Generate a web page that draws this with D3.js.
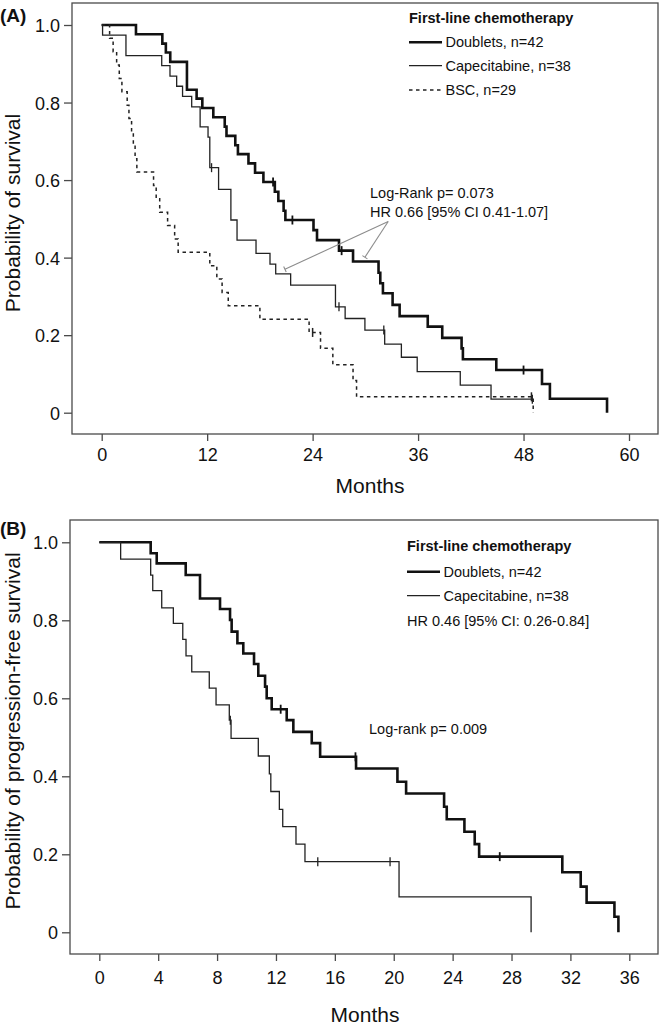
<!DOCTYPE html>
<html>
<head>
<meta charset="utf-8">
<script src="https://cdn.jsdelivr.net/npm/d3@7"></script>
<style>
  html, body { margin: 0; padding: 0; background: #fff; }
  svg { display: block; font-family: "Liberation Sans", Arial, Helvetica, sans-serif; }
</style>
</head>
<body>
<svg id="chart" width="663" height="1025"></svg>
<script>
// ---------------- DATA ----------------
const probTicks = [0, 0.2, 0.4, 0.6, 0.8, 1.0];
const probTickLabels = ["0", "0.2", "0.4", "0.6", "0.8", "1.0"];
const monthTicksA = [0, 12, 24, 36, 48, 60];
const monthTicksB = [0, 4, 8, 12, 16, 20, 24, 28, 32, 36];

const legendTitle = "First-line chemotherapy";
const seriesNamesA = ["Doublets, n=42", "Capecitabine, n=38", "BSC, n=29"];
const seriesNamesB = ["Doublets, n=42", "Capecitabine, n=38"];

// Panel A - overall survival
const osDoubletsTime = [0, 3.9, 6.9, 7.3, 7.8, 9.7, 10.8, 11.45, 12.7, 14.0, 14.2, 15.2, 15.5, 16.7, 17.45, 18.4, 19.7, 20.1, 20.7, 20.9, 24.1, 24.5, 27.0, 28.6, 31.5, 31.7, 32.0, 33.1, 33.9, 37.1, 38.75, 40.95, 41.1, 44.9, 50.1, 51.0, 57.5];
const osDoubletsSurv = [1, 0.976, 0.952, 0.929, 0.905, 0.833, 0.810, 0.786, 0.762, 0.738, 0.714, 0.690, 0.667, 0.643, 0.619, 0.595, 0.570, 0.546, 0.521, 0.497, 0.471, 0.445, 0.418, 0.390, 0.361, 0.334, 0.308, 0.278, 0.249, 0.222, 0.193, 0.166, 0.138, 0.110, 0.074, 0.036, 0];
const osDoubletsCensor = [19.5, 21.7, 27.3, 48.0];

const osCapeTime = [0, 0.1, 2.76, 6.83, 7.77, 8.53, 9.2, 10.24, 11.2, 12.1, 12.3, 13.3, 14.7, 15.4, 17.56, 19.15, 19.8, 21.5, 26.6, 27.7, 29.95, 32.2, 34.1, 35.9, 40.8, 44.3, 49.0];
const osCapeSurv = [1, 0.974, 0.921, 0.895, 0.868, 0.842, 0.816, 0.789, 0.737, 0.711, 0.632, 0.576, 0.497, 0.445, 0.411, 0.383, 0.358, 0.329, 0.273, 0.243, 0.213, 0.177, 0.143, 0.106, 0.071, 0.035, 0.035];
const osCapeCensor = [12.5, 27.0, 32.1, 49.0];

const osBscTime = [0, 0.9, 1.3, 1.7, 2.0, 2.3, 2.9, 3.1, 3.4, 3.6, 3.8, 4.0, 5.9, 6.2, 6.6, 7.5, 8.3, 8.7, 12.3, 13.1, 13.7, 14.4, 18.0, 23.6, 24.9, 26.3, 28.6, 29.0, 49.1];
const osBscSurv = [1, 0.966, 0.931, 0.897, 0.862, 0.828, 0.793, 0.759, 0.724, 0.690, 0.655, 0.621, 0.586, 0.552, 0.517, 0.483, 0.448, 0.414, 0.379, 0.345, 0.310, 0.276, 0.241, 0.207, 0.166, 0.124, 0.083, 0.041, 0];
const osBscCensor = [24.0, 48.9];

// Panel B - progression-free survival
const pfsDoubletsTime = [0, 3.49, 3.9, 5.87, 6.84, 8.2, 8.88, 8.99, 9.38, 9.78, 10.51, 10.8, 11.26, 11.37, 11.71, 12.73, 13.18, 14.43, 15.0, 17.44, 20.25, 20.84, 23.42, 23.6, 24.8, 25.5, 25.8, 31.45, 32.7, 33.1, 34.99, 35.26];
const pfsDoubletsSurv = [1, 0.972, 0.946, 0.916, 0.856, 0.829, 0.801, 0.771, 0.741, 0.715, 0.688, 0.658, 0.630, 0.600, 0.572, 0.544, 0.514, 0.485, 0.450, 0.420, 0.386, 0.356, 0.322, 0.290, 0.258, 0.226, 0.194, 0.154, 0.117, 0.076, 0.040, 0];
const pfsDoubletsCensor = [12.32, 17.4, 27.2];

const pfsCapeTime = [0, 1.45, 3.49, 3.63, 4.24, 5.03, 5.67, 5.89, 6.28, 7.47, 7.93, 8.83, 8.95, 10.8, 11.55, 11.65, 12.23, 12.46, 13.36, 13.97, 20.36, 29.33];
const pfsCapeSurv = [1, 0.957, 0.916, 0.876, 0.832, 0.792, 0.751, 0.709, 0.668, 0.626, 0.583, 0.544, 0.497, 0.452, 0.406, 0.361, 0.315, 0.271, 0.226, 0.181, 0.091, 0];
const pfsCapeCensor = [8.9, 14.84, 19.75];

// Annotation pointers panel A (month, probability)
const arrowApexA = [32.6, 0.493];
const arrowEndsA = [[20.85, 0.370], [29.95, 0.401]];
const statsTextA = ["Log-Rank p= 0.073", "HR 0.66 [95% CI 0.41-1.07]"];
const statsTextB = ["HR 0.46 [95% CI: 0.26-0.84]", "Log-rank p= 0.009"];

// ---------------- DRAWING ----------------
const svg = d3.select("#chart");
const INK = "#111";
const BOX = "#4a4a4a";
const styles = {
  thick: { w: 2.6, dash: null, color: "#111" },
  thin: { w: 1.3, dash: null, color: "#222" },
  dashed: { w: 1.5, dash: "3.5,3.5", color: "#222" }
};

function survAt(times, surv, t) {
  let i = d3.bisectRight(times, t) - 1;
  if (i < 0) i = 0;
  return surv[i];
}

function drawPanel(cfg) {
  const g = svg.append("g");
  const x = d3.scaleLinear().domain(cfg.xDomain).range(cfg.xRange);
  const y = d3.scaleLinear().domain([0, 1]).range(cfg.yRange);
  const b = cfg.box;

  // box
  g.append("rect").attr("x", b.x0).attr("y", b.y0)
    .attr("width", b.x1 - b.x0).attr("height", b.y1 - b.y0)
    .attr("fill", "none").attr("stroke", BOX).attr("stroke-width", 1.3);

  // x axis
  const xa = g.append("g").attr("transform", `translate(0,${b.y1})`)
    .call(d3.axisBottom(x).tickValues(cfg.xTicks).tickFormat(d3.format("d"))
      .tickSize(7).tickSizeOuter(0).tickPadding(cfg.xPad));
  xa.select(".domain").remove();
  xa.selectAll("line").attr("stroke", BOX).attr("stroke-width", 1.3);
  xa.selectAll("text").attr("font-size", 18).attr("fill", INK)
    .attr("font-family", "Liberation Sans, Arial, sans-serif");

  // y axis
  const ya = g.append("g").attr("transform", `translate(${b.x0},0)`)
    .call(d3.axisLeft(y).tickValues(probTicks)
      .tickFormat((d, i) => probTickLabels[i])
      .tickSize(8).tickSizeOuter(0).tickPadding(4));
  ya.select(".domain").remove();
  ya.selectAll("line").attr("stroke", BOX).attr("stroke-width", 1.3);
  ya.selectAll("text").attr("font-size", 18).attr("fill", INK)
    .attr("font-family", "Liberation Sans, Arial, sans-serif").attr("dy", "0.36em");

  // axis titles
  g.append("text").attr("x", cfg.xTitle[0]).attr("y", cfg.xTitle[1])
    .attr("text-anchor", "middle").attr("font-size", 21).attr("fill", INK).text("Months");
  g.append("text").attr("transform", `translate(${cfg.yTitle[0]},${cfg.yTitle[1]}) rotate(-90)`)
    .attr("text-anchor", "middle").attr("font-size", 21).attr("fill", INK).text(cfg.yLabel);

  // panel label
  g.append("text").attr("x", 0).attr("y", cfg.panelLabelY)
    .attr("font-size", 19).attr("font-weight", "bold").attr("fill", INK).text(cfg.panelLabel);

  // curves
  const line = d3.line().x(d => x(d[0])).y(d => y(d[1])).curve(d3.curveStepAfter);
  cfg.series.forEach(s => {
    const st = styles[s.style];
    const pts = s.time.map((t, i) => [t, s.surv[i]]);
    g.append("path").attr("d", line(pts)).attr("fill", "none")
      .attr("stroke", st.color).attr("stroke-width", st.w)
      .attr("stroke-dasharray", st.dash)
      .attr("stroke-linejoin", "miter").attr("stroke-linecap", "butt");
    // censor marks
    g.selectAll(null).data(s.censor).enter().append("line")
      .attr("x1", d => x(d)).attr("x2", d => x(d))
      .attr("y1", d => y(survAt(s.time, s.surv, d)) - 4.5)
      .attr("y2", d => y(survAt(s.time, s.surv, d)) + 4.5)
      .attr("stroke", st.color).attr("stroke-width", Math.min(st.w, 1.8));
  });

  // legend
  const L = cfg.legend;
  g.append("text").attr("x", L.x).attr("y", L.titleY).attr("font-size", 14.5)
    .attr("font-weight", "bold").attr("fill", INK).text(legendTitle);
  cfg.series.forEach((s, i) => {
    const st = styles[s.style];
    const by = L.rowY[i];
    g.append("line").attr("x1", L.x).attr("x2", L.x + 33)
      .attr("y1", by - 5).attr("y2", by - 5)
      .attr("stroke", st.color).attr("stroke-width", st.w).attr("stroke-dasharray", st.dash);
    g.append("text").attr("x", L.x + 36.5).attr("y", by).attr("font-size", 14.5)
      .attr("fill", INK).text(s.name);
  });
  return { g, x, y };
}

// Panel A
const A = drawPanel({
  box: { x0: 72, y0: 3, x1: 658, y1: 434 },
  xDomain: [0, 60], xRange: [101.7, 629], yRange: [412.7, 25],
  xTicks: monthTicksA, xPad: 7,
  xTitle: [370, 493], yTitle: [20, 213],
  yLabel: "Probability of survival",
  panelLabel: "(A)", panelLabelY: 22,
  legend: { x: 409, titleY: 22.7, rowY: [47.3, 70.7, 95] },
  series: [
    { name: seriesNamesA[0], style: "thick", time: osDoubletsTime, surv: osDoubletsSurv, censor: osDoubletsCensor },
    { name: seriesNamesA[1], style: "thin", time: osCapeTime, surv: osCapeSurv, censor: osCapeCensor },
    { name: seriesNamesA[2], style: "dashed", time: osBscTime, surv: osBscSurv, censor: osBscCensor }
  ]
});

// Panel A annotation
A.g.append("text").attr("x", 370).attr("y", 198.3).attr("font-size", 14.5).attr("fill", INK).text(statsTextA[0]);
A.g.append("text").attr("x", 370).attr("y", 216.7).attr("font-size", 14.5).attr("fill", INK).text(statsTextA[1]);
arrowEndsA.forEach(e => {
  const x1 = A.x(arrowApexA[0]), y1 = A.y(arrowApexA[1]);
  const x2 = A.x(e[0]), y2 = A.y(e[1]);
  A.g.append("line").attr("x1", x1).attr("y1", y1).attr("x2", x2).attr("y2", y2)
    .attr("stroke", "#8c8c8c").attr("stroke-width", 1.1);
  const ang = Math.atan2(y2 - y1, x2 - x1);
  const px = Math.cos(ang + Math.PI / 2) * 3, py = Math.sin(ang + Math.PI / 2) * 3;
  A.g.append("line").attr("x1", x2 - px).attr("y1", y2 - py).attr("x2", x2 + px).attr("y2", y2 + py)
    .attr("stroke", "#8c8c8c").attr("stroke-width", 1.1);
});

// Panel B
const B = drawPanel({
  box: { x0: 70, y0: 520, x1: 658, y1: 954 },
  xDomain: [0, 36], xRange: [99.3, 629.3], yRange: [932.3, 542.3],
  xTicks: monthTicksB, xPad: 10.5,
  xTitle: [365, 1021.5], yTitle: [20, 731],
  yLabel: "Probability of progression-free survival",
  panelLabel: "(B)", panelLabelY: 535,
  legend: { x: 407, titleY: 550.7, rowY: [576.7, 600.7] },
  series: [
    { name: seriesNamesB[0], style: "thick", time: pfsDoubletsTime, surv: pfsDoubletsSurv, censor: pfsDoubletsCensor },
    { name: seriesNamesB[1], style: "thin", time: pfsCapeTime, surv: pfsCapeSurv, censor: pfsCapeCensor }
  ]
});
B.g.append("text").attr("x", 407).attr("y", 625.7).attr("font-size", 14.5).attr("fill", INK).text(statsTextB[0]);
B.g.append("text").attr("x", 369).attr("y", 734).attr("font-size", 14.5).attr("fill", INK).text(statsTextB[1]);
</script>
</body>
</html>
